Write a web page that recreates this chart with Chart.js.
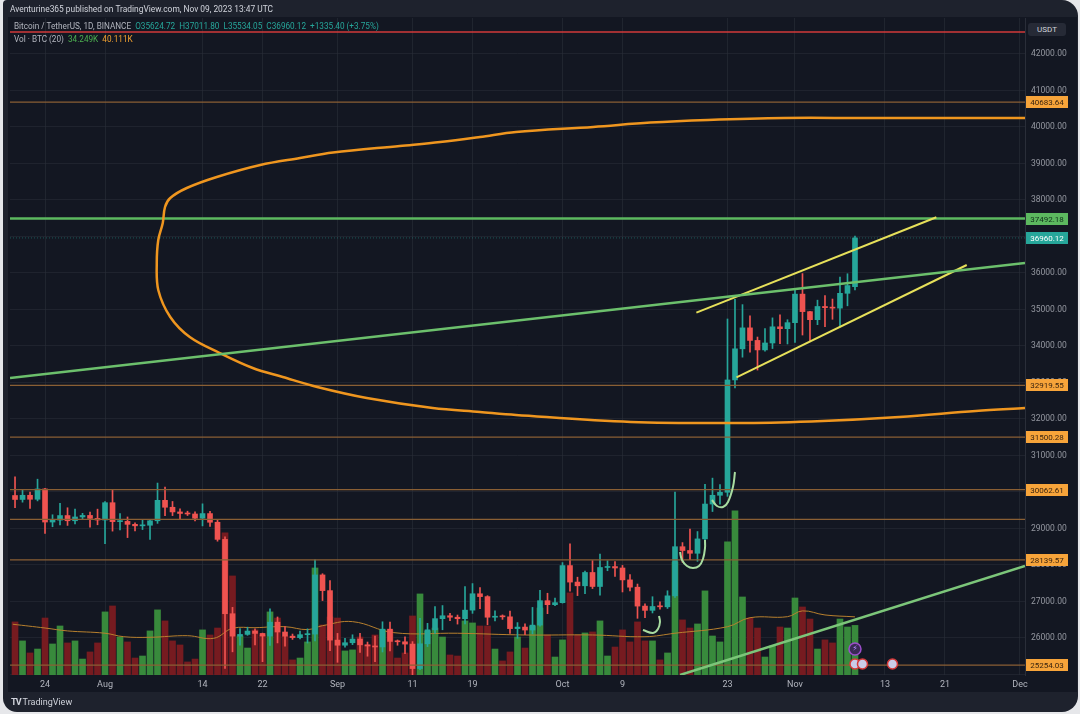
<!DOCTYPE html>
<html lang="en">
<head>
    <meta charset="UTF-8">
    <title>Bitcoin / TetherUS 1D</title>
    <script src="https://cdn.jsdelivr.net/npm/chart.js"></script>
    <style>
        body {
            margin: 0;
            width: 1080px;
            height: 714px;
            overflow: hidden;
            position: relative;
            background: #e6e7ea;
            font-family: Roboto, 'Liberation Sans', sans-serif;
        }
        .frame {
            position: absolute; left: 3px; top: 0; width: 1075px; height: 712px;
            background: #1e222d; border-radius: 4px 16px 16px 14px;
        }
        .pane {
            position: absolute; left: 8px; top: 17px; width: 1069px; height: 675px;
            background: #131722;
        }
        #chartBox { position: absolute; left: 0; top: 0; }
        .txt { position: absolute; white-space: nowrap; color: #d1d4dc; z-index: 2; }
        .t { color: #26a69a; }
        .usdt {
            position: absolute; left: 1028px; top: 23px; width: 38px; height: 13px;
            background: #262a36; border-radius: 3px; color: #d1d4dc;
            font-size: 8px; line-height: 13px; text-align: center; z-index: 2;
        }
    </style>
</head>
<body>
    <div class="frame"></div>
    <div class="pane"></div>
    <canvas id="chartBox" width="1080" height="714"></canvas>

    <div class="txt" style="left:10px;top:4px;font-size:8.4px;">Aventurine365 published on TradingView.com, Nov 09, 2023 13:47 UTC</div>
    <div class="txt" style="left:14px;top:21px;font-size:8.2px;color:#b2b5be;">Bitcoin / TetherUS, 1D, BINANCE&nbsp; <span class="t">O35624.72</span>&nbsp; <span class="t">H37011.80</span>&nbsp; <span class="t">L35534.05</span>&nbsp; <span class="t">C36960.12</span>&nbsp; <span class="t">+1335.40 (+3.75%)</span></div>
    <div class="txt" style="left:14px;top:34px;font-size:8.2px;color:#b2b5be;">Vol · BTC (20)&nbsp; <span style="color:#4caf50">34.249K</span>&nbsp; <span style="color:#f0a030">40.111K</span></div>
    <div class="usdt">USDT</div>
    <div class="txt" style="left:11px;top:697px;font-size:9px;"><b style="letter-spacing:-1px;">TV</b> TradingView</div>

    <script>
        // --- Datos: BTCUSDT diario, 20 jul - 9 nov 2023 ---
        const opens = [29903, 29794, 29909, 29800, 30083, 29176, 29228, 29354, 29211, 29315, 29357, 29275,
            29231, 29706, 29187, 29194, 29113, 29072, 29088, 29210, 29770, 29581, 29453, 29411, 29397, 29280,
            29408, 29170, 28701, 26664, 26050, 26097, 26189, 26124, 26052, 26432, 26163, 26049, 26009, 26090,
            26106, 27727, 27297, 25941, 25801, 25869, 25969, 25812, 25780, 25753, 26241, 25905, 25895, 25832,
            25162, 25840, 26223, 26529, 26608, 26568, 26527, 26762, 27211, 27133, 26568, 26580, 26579, 26256,
            26298, 26217, 26352, 27021, 26912, 26967, 27983, 27531, 27429, 27794, 27410, 27931, 27956, 27917,
            27591, 27391, 26873, 26756, 26862, 26853, 27154, 28500, 28396, 28320, 28714, 29669, 29909, 29992,
            33069, 33922, 34496, 34152, 33892, 34082, 34525, 34474, 34639, 35421, 34941, 34720, 35082, 35049,
            35037, 35443, 35625];
        const highs = [30417, 30061, 30000, 30350, 30099, 29375, 29690, 29567, 29530, 29415, 29449, 29529,
            29738, 30047, 29409, 29315, 29155, 29230, 29245, 30244, 30136, 29739, 29541, 29473, 29459, 29675,
            29470, 29222, 28774, 26838, 26260, 26296, 26252, 26133, 26800, 26575, 26314, 26107, 26185, 26250,
            28142, 27760, 27575, 26125, 25989, 26087, 26125, 25888, 26050, 26443, 26432, 25945, 26030, 25900,
            26540, 26400, 26860, 26888, 26675, 26628, 27409, 27490, 27377, 27158, 26743, 26632, 26738, 26421,
            26389, 26837, 27308, 27225, 27094, 28065, 28580, 27665, 27830, 28120, 28295, 28115, 28095, 27987,
            27734, 27477, 26938, 27130, 26989, 27293, 30000, 28613, 28982, 28916, 30207, 30379, 30199, 34740,
            35280, 35133, 34824, 34245, 34478, 34770, 34856, 34719, 35582, 35984, 34946, 35255, 35380, 35286,
            35890, 35979, 37012];
        const lows = [29571, 29720, 29550, 29755, 28861, 29047, 29096, 29083, 29125, 29257, 29033, 29101,
            28585, 28927, 28959, 28750, 28930, 28970, 28701, 29139, 29351, 29352, 29250, 29354, 29210, 29070,
            29057, 28651, 25166, 25620, 25800, 26072, 25812, 25350, 25796, 25864, 25777, 25960, 25971, 25860,
            25922, 27025, 25655, 25333, 25750, 25817, 25604, 25500, 25350, 25615, 25647, 25800, 25570, 24901,
            25131, 25764, 26127, 26224, 26474, 26380, 26387, 26674, 26800, 26361, 26468, 26509, 26122, 25990,
            26090, 26112, 26321, 26665, 26883, 26955, 27280, 27160, 27216, 27353, 27175, 27842, 27687, 27260,
            27290, 26538, 26555, 26685, 26789, 26808, 27112, 28070, 28142, 28100, 28565, 29464, 29665, 29880,
            32850, 33693, 33832, 33340, 33860, 33930, 34062, 34055, 34097, 34300, 34120, 34583, 34528, 34731,
            34522, 35100, 35534];
        const closes = [29794, 29909, 29800, 30083, 29176, 29228, 29354, 29211, 29315, 29357, 29275, 29231,
            29706, 29187, 29194, 29113, 29072, 29088, 29210, 29770, 29581, 29453, 29411, 29397, 29280, 29408,
            29170, 28701, 26664, 26050, 26097, 26189, 26124, 26052, 26432, 26163, 26049, 26009, 26090, 26106,
            27727, 27297, 25941, 25801, 25869, 25969, 25812, 25780, 25753, 26241, 25905, 25895, 25832, 25162,
            25840, 26223, 26529, 26608, 26568, 26527, 26762, 27211, 27133, 26568, 26580, 26579, 26256, 26298,
            26217, 26352, 27021, 26912, 26967, 27983, 27531, 27429, 27794, 27410, 27931, 27956, 27917, 27591,
            27391, 26873, 26756, 26862, 26853, 27154, 28500, 28396, 28320, 28714, 29669, 29909, 29992, 33069,
            33922, 34496, 34152, 33892, 34082, 34525, 34474, 34639, 35421, 34941, 34720, 35082, 35049, 35037,
            35443, 35655, 36960];
        // volumen en miles de BTC
        const volumes = [36.6, 23.5, 15.2, 17.9, 39.3, 21.4, 33.8, 22.1, 23.5, 11.0, 15.9, 22.1,
            43.5, 47.6, 26.2, 22.8, 11.7, 13.1, 30.4, 44.9, 37.3, 23.5, 20.7, 9.0, 11.0, 31.1,
            27.6, 32.4, 98.0, 68.3, 26.9, 18.6, 31.1, 27.6, 43.5, 39.3, 26.9, 10.4, 11.7, 22.8,
            73.8, 34.5, 40.0, 39.3, 16.6, 17.3, 26.2, 20.7, 27.6, 31.1, 31.1, 11.7, 15.2, 40.7,
            55.9, 30.4, 32.4, 26.2, 13.8, 13.1, 37.3, 35.9, 33.8, 33.8, 17.9, 9.7, 15.9, 26.2,
            18.6, 33.8, 46.2, 27.6, 12.4, 24.2, 56.6, 27.6, 29.0, 29.7, 37.3, 13.1, 19.3, 31.1,
            22.8, 36.6, 23.5, 23.5, 10.4, 15.2, 78.0, 38.0, 32.4, 35.2, 58.0, 26.9, 22.8, 91.8,
            113.2, 53.8, 39.3, 32.4, 12.4, 20.0, 33.1, 32.4, 53.1, 46.9, 38.6, 17.9, 24.2, 22.1,
            38.6, 33.1, 34.2];
        const maDays = [-0.3, 4, 7, 12, 14.5, 18, 23, 26.5, 29, 32, 36, 39, 41, 45, 50.5, 59, 68, 77, 84, 88, 95, 98, 103, 105, 108, 112];
        const maVols = [35.0, 32.4, 30.4, 28.8, 26.4, 26.0, 27.1, 25.3, 32.2, 32.6, 33.3, 31.3, 34.0, 36.8, 29.2, 28.8, 27.6, 27.6, 26.4, 28.8, 33.3, 39.5, 40.2, 44.2, 41.4, 40.1];

        // eje x: días desde el 20 jul
        const tickDays = [4, 12, 25, 33, 43, 53, 61, 73, 81, 95, 104, 116, 124, 134];
        const tickLabels = ['24', 'Aug', '14', '22', 'Sep', '11', '19', 'Oct', '9', '23', 'Nov', '13', '21', 'Dec'];
        const priceTicks = [25000, 26000, 27000, 28000, 29000, 30000, 31000, 32000, 33000, 34000, 35000,
            36000, 37000, 38000, 39000, 40000, 41000, 42000];

        // niveles dibujados
        const orangeLevels = [40683.64, 32919.55, 31500.28, 30062.61, 28139.57, 25254.03];
        const plainLevels = [29250];
        const greenLevel = 37492.18;
        const lastPrice = 36960.12;
        const redLevel = 42603;

        // líneas de tendencia (día, precio)
        const greenTrendDays = [-0.67, 134.67];
        const greenTrendPrices = [33122, 36273];
        const lowGreenDays = [88.67, 134.67];
        const lowGreenPrices = [24985, 27971];
        const yellowTopDays = [90.85, 122.85];
        const yellowTopPrices = [34912, 37526];
        const yellowBotDays = [96.2, 126.9];
        const yellowBotPrices = [33141, 36219];

        // curva naranja a mano alzada
        const curveDays = [134.67, 112.8, 102.5, 92.4, 84.7, 77.1, 66.8, 62, 56.7, 51.3, 42.4, 38, 32.7, 26.9,
            22.9, 20.7, 20, 19.7, 19.1, 18.9, 19.1, 20.7, 23.3, 27.3, 31.7, 35.7, 40.3, 46.9, 55.7, 62, 66.8,
            82.1, 97.5, 107.7, 117.9, 128.1, 134.67];
        const curvePrices = [40246, 40246, 40246, 40192, 40120, 40000, 39863, 39726, 39589, 39480, 39300,
            39150, 38959, 38630, 38328, 38054, 37808, 37369, 36904, 36273, 35534, 34794, 34246, 33807, 33396,
            33150, 32876, 32574, 32300, 32191, 32109, 31917, 31889, 31944, 32054, 32218, 32300];

        // pequeños trazos en "U"
        const hook1Days = [88.67, 88.93, 89.6, 90.4, 91.2, 91.73, 92, 92];
        const hook1Prices = [28355, 28136, 27971, 27916, 27971, 28163, 28464, 28684];
        const hook2Days = [83.73, 85.07, 85.73, 86, 85.87];
        const hook2Prices = [26218, 26135, 26245, 26437, 26601];
        const hook3Days = [92.93, 93.6, 94.4, 95.07, 95.73, 96];
        const hook3Prices = [29780, 29615, 29588, 29725, 30136, 30547];

        const X_MIN = -0.67, X_MAX = 134.67;
        const UP = '#26a69a', DOWN = '#ef5350';

        const candleCol = closes.map((c, i) => c >= opens[i] ? UP : DOWN);
        const volCol = closes.map((c, i) => c >= opens[i] ? '#388a3c' : '#761b20');

        function pts(days, prices) {
            return days.map((d, i) => ({ x: d, y: prices[i] }));
        }
        function lineDs(data, color, width, extra) {
            return Object.assign({
                type: 'line', data: data, borderColor: color, borderWidth: width,
                pointRadius: 0, fill: false, yAxisID: 'y', order: 1
            }, extra || {});
        }
        function flat(v) {
            return pts([X_MIN, X_MAX], [v, v]);
        }

        const datasets = [
            {
                type: 'bar', yAxisID: 'yv', order: 30, grouped: false, barThickness: 6,
                data: volumes.map((v, i) => ({ x: i, y: v })), backgroundColor: volCol
            },
            lineDs(pts(maDays, maVols), '#b8802e', 1, { yAxisID: 'yv', order: 29, tension: 0.4 }),
            {
                type: 'bar', yAxisID: 'y', order: 12, grouped: false, barThickness: 1,
                data: lows.map((l, i) => ({ x: i, y: [l, highs[i]] })), backgroundColor: candleCol
            },
            {
                type: 'bar', yAxisID: 'y', order: 11, grouped: false, barThickness: 5, minBarLength: 1,
                data: opens.map((o, i) => ({ x: i, y: [o, closes[i]] })), backgroundColor: candleCol
            }
        ];
        orangeLevels.concat(plainLevels).forEach(v => {
            datasets.push(lineDs(flat(v), '#8a5f34', 1.2, { order: 5 }));
        });
        datasets.push(lineDs(flat(lastPrice), 'rgba(38,166,154,0.45)', 1, { order: 5, borderDash: [1, 2] }));
        datasets.push(lineDs(flat(redLevel), '#d23a3a', 1.5, { order: 5 }));
        datasets.push(lineDs(flat(greenLevel), '#5cb85f', 2.5, { order: 2 }));
        datasets.push(lineDs(pts(greenTrendDays, greenTrendPrices), '#6cc06c', 2.5));
        datasets.push(lineDs(pts(lowGreenDays, lowGreenPrices), '#7cc67a', 2.5));
        datasets.push(lineDs(pts(yellowTopDays, yellowTopPrices), '#e6e05a', 2));
        datasets.push(lineDs(pts(yellowBotDays, yellowBotPrices), '#e6e05a', 2));
        datasets.push(lineDs(pts(curveDays, curvePrices), '#ef961f', 2.5, { tension: 0.35 }));
        [[hook1Days, hook1Prices], [hook2Days, hook2Prices], [hook3Days, hook3Prices]].forEach(h => {
            datasets.push(lineDs(pts(h[0], h[1]), '#a8dca0', 2, { tension: 0.4 }));
        });

        // --- etiquetas de precio en el eje derecho y marcadores ---
        const tagPlugin = {
            id: 'tags',
            afterDraw(chart) {
                const ctx = chart.ctx;
                const y = chart.scales.y;
                const x = chart.scales.x;
                const left = chart.chartArea.right + 1;
                ctx.save();
                ctx.font = '8px Roboto, sans-serif';
                ctx.textAlign = 'center';
                ctx.textBaseline = 'middle';
                function tag(v, bg, fg) {
                    const py = Math.round(y.getPixelForValue(v));
                    ctx.fillStyle = bg;
                    ctx.fillRect(left, py - 6, 42, 12);
                    ctx.fillStyle = fg;
                    ctx.fillText(v.toFixed(2), left + 21, py + 0.5);
                }
                orangeLevels.forEach(v => tag(v, '#f7a43a', '#3a2410'));
                tag(greenLevel, '#5cb85f', '#10301a');
                tag(lastPrice, '#26a69a', '#ffffff');

                // iconos de eventos
                const bottom = chart.chartArea.bottom;
                ctx.lineWidth = 1.5;
                ctx.fillStyle = '#3a2a55';
                ctx.strokeStyle = '#9c4dcc';
                ctx.beginPath();
                ctx.arc(x.getPixelForValue(112), bottom - 26, 6, 0, Math.PI * 2);
                ctx.fill();
                ctx.stroke();
                ctx.fillStyle = '#b388ff';
                ctx.font = '8px DejaVu Sans';
                ctx.fillText('⚡', x.getPixelForValue(112), bottom - 26);
                [112, 113, 117].forEach(d => {
                    ctx.beginPath();
                    ctx.arc(x.getPixelForValue(d), bottom - 11, 5, 0, Math.PI * 2);
                    ctx.fillStyle = '#c9cde8';
                    ctx.fill();
                    ctx.strokeStyle = '#d63a3a';
                    ctx.stroke();
                });
                ctx.restore();
            }
        };

        const ctx = document.getElementById('chartBox').getContext('2d');
        new Chart(ctx, {
            type: 'bar',
            data: { datasets: datasets },
            options: {
                responsive: false,
                animation: false,
                layout: { padding: { left: 10, top: 18, right: 0, bottom: 22 } },
                plugins: { legend: { display: false }, tooltip: { enabled: false } },
                elements: { point: { radius: 0 } },
                scales: {
                    x: {
                        type: 'linear', min: X_MIN, max: X_MAX, offset: false,
                        afterBuildTicks: s => { s.ticks = tickDays.map(v => ({ value: v })); },
                        afterFit: s => { s.height = 17; },
                        ticks: {
                            autoSkip: false, maxRotation: 0, padding: 4,
                            color: '#b2b5be', font: { size: 9, family: 'Roboto' },
                            callback: v => tickLabels[tickDays.indexOf(v)]
                        },
                        grid: { color: 'rgba(42,46,57,0.6)', drawTicks: false, offset: false },
                        border: { display: false }
                    },
                    y: {
                        position: 'right', min: 24985, max: 42986,
                        afterBuildTicks: s => { s.ticks = priceTicks.map(v => ({ value: v })); },
                        afterFit: s => { s.width = 55; },
                        ticks: {
                            padding: 6, color: '#9598a1', font: { size: 8.5, family: 'Roboto' },
                            callback: v => v < 26000 ? '' : v.toFixed(2)
                        },
                        grid: { color: 'rgba(42,46,57,0.55)', drawTicks: false },
                        border: { display: true, color: '#2a2e39' }
                    },
                    yv: { display: false, min: 0, max: 453 }
                }
            },
            plugins: [tagPlugin]
        });
    </script>
</body>
</html>
